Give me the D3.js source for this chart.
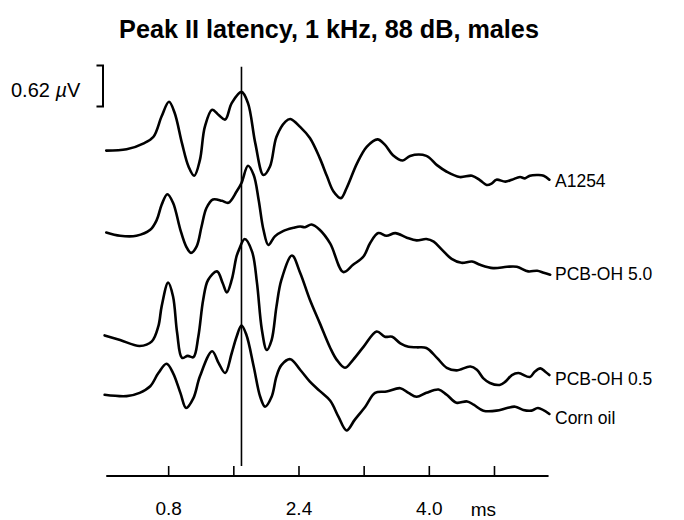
<!DOCTYPE html>
<html>
<head>
<meta charset="utf-8">
<script src="https://cdn.jsdelivr.net/npm/d3@7"></script>
<style>
  html, body { margin: 0; padding: 0; background: #fff; }
  svg { display: block; }
  text { font-family: "Liberation Sans", Arial, sans-serif; fill: #000; }
</style>
</head>
<body>
<svg id="chart" width="684" height="520"></svg>
<script>
// ---- data (time in ms, amplitude in µV relative to each trace's start) ----
const seriesNames = ["A1254", "PCB-OH 5.0", "PCB-OH 0.5", "Corn oil"];
const seriesOffsets = [4.93, 3.69, 2.13, 1.23]; // stacking offsets, µV

const a1254 = [
  [0.04,0],[0.29,0.02],[0.50,0.11],[0.62,0.21],[0.72,0.52],[0.81,0.74],[0.88,0.57],[0.97,0.11],
  [1.05,-0.24],[1.12,-0.38],[1.19,-0.14],[1.25,0.36],[1.34,0.62],[1.42,0.54],[1.50,0.47],[1.58,0.72],
  [1.70,0.89],[1.78,0.72],[1.87,0.11],[1.97,-0.37],[2.05,-0.24],[2.13,0.21],[2.24,0.44],[2.30,0.48],
  [2.42,0.36],[2.54,0.19],[2.66,-0.11],[2.75,-0.39],[2.83,-0.62],[2.92,-0.72],[2.99,-0.57],[3.12,-0.19],
  [3.24,0.06],[3.37,0.17],[3.46,0.09],[3.56,-0.07],[3.68,-0.15],[3.77,-0.08],[3.97,-0.08],[4.10,-0.22],
  [4.22,-0.32],[4.38,-0.40],[4.53,-0.38],[4.63,-0.45],[4.71,-0.52],[4.77,-0.50],[4.83,-0.44],[4.94,-0.47],
  [5.02,-0.44],[5.12,-0.40],[5.18,-0.42],[5.24,-0.38],[5.34,-0.37],[5.41,-0.38],[5.48,-0.44]
];
const pcbOH50 = [
  [0.04,0],[0.21,-0.05],[0.41,-0.05],[0.58,0.04],[0.66,0.19],[0.72,0.42],[0.79,0.58],[0.86,0.45],
  [0.95,0.04],[1.02,-0.21],[1.08,-0.31],[1.15,-0.21],[1.21,0.09],[1.27,0.37],[1.35,0.50],[1.46,0.48],
  [1.54,0.45],[1.64,0.62],[1.70,0.75],[1.78,1.01],[1.85,0.87],[1.91,0.50],[1.97,0.04],[2.03,-0.19],
  [2.11,-0.06],[2.21,0.02],[2.34,0.07],[2.42,0.09],[2.48,0.08],[2.56,0.12],[2.66,0.04],[2.79,-0.17],
  [2.95,-0.60],[3.07,-0.49],[3.20,-0.36],[3.28,-0.16],[3.38,-0.01],[3.48,-0.05],[3.59,-0.01],[3.73,-0.08],
  [3.85,-0.12],[3.97,-0.10],[4.06,-0.14],[4.16,-0.26],[4.28,-0.40],[4.40,-0.46],[4.53,-0.44],[4.63,-0.49],
  [4.79,-0.54],[4.96,-0.52],[5.08,-0.52],[5.22,-0.59],[5.33,-0.58],[5.41,-0.61],[5.49,-0.64]
];
const pcbOH05 = [
  [0.02,0],[0.21,-0.07],[0.45,-0.16],[0.60,-0.09],[0.68,0.14],[0.72,0.44],[0.80,0.80],[0.86,0.59],
  [0.91,0.04],[0.97,-0.34],[1.04,-0.31],[1.11,-0.33],[1.17,-0.02],[1.23,0.54],[1.29,0.84],[1.40,0.97],
  [1.47,0.79],[1.52,0.65],[1.58,0.84],[1.64,1.20],[1.67,1.30],[1.74,1.46],[1.83,1.27],[1.89,0.80],
  [1.95,0.09],[2.01,-0.22],[2.07,-0.07],[2.13,0.44],[2.19,0.84],[2.32,1.21],[2.42,0.95],[2.54,0.54],
  [2.66,0.19],[2.79,-0.19],[2.87,-0.37],[2.97,-0.49],[3.07,-0.37],[3.20,-0.17],[3.36,0.06],[3.46,-0.02],
  [3.55,-0.02],[3.65,-0.12],[3.75,-0.17],[3.85,-0.18],[3.97,-0.19],[4.10,-0.34],[4.22,-0.49],[4.34,-0.53],
  [4.51,-0.47],[4.59,-0.52],[4.67,-0.65],[4.75,-0.72],[4.87,-0.75],[4.94,-0.70],[5.02,-0.60],[5.10,-0.57],
  [5.24,-0.63],[5.30,-0.55],[5.37,-0.50],[5.43,-0.55],[5.48,-0.60]
];
const cornOil = [
  [0.02,0],[0.29,-0.02],[0.45,0.03],[0.58,0.13],[0.68,0.33],[0.78,0.47],[0.86,0.33],[0.95,0.03],
  [1.02,-0.20],[1.11,-0.05],[1.19,0.28],[1.34,0.66],[1.42,0.48],[1.50,0.33],[1.58,0.63],[1.64,0.88],
  [1.70,1.05],[1.76,0.91],[1.85,0.43],[1.93,-0.03],[1.99,-0.18],[2.07,-0.03],[2.13,0.28],[2.19,0.45],
  [2.30,0.54],[2.42,0.38],[2.54,0.20],[2.66,0.06],[2.79,-0.09],[2.89,-0.33],[2.99,-0.54],[3.09,-0.38],
  [3.22,-0.18],[3.34,0.03],[3.48,0.05],[3.65,0.10],[3.75,0.03],[3.85,-0.03],[3.97,0.03],[4.12,0.08],
  [4.22,0.00],[4.34,-0.12],[4.47,-0.10],[4.55,-0.15],[4.67,-0.24],[4.83,-0.24],[4.96,-0.20],[5.06,-0.18],
  [5.16,-0.23],[5.26,-0.24],[5.34,-0.20],[5.48,-0.29]
];
const seriesValues = [a1254, pcbOH50, pcbOH05, cornOil];

const tickValues = [0.8, 1.6, 2.4, 3.2, 4.0, 4.8];
const tickLabels = ["0.8", "", "2.4", "", "4.0", ""];
const markerTime = 1.70;       // vertical reference line (ms)
const scaleBarValue = 0.62;    // µV
const titleText = "Peak II latency, 1 kHz, 88 dB, males";

// ---- drawing ----
const svg = d3.select("#chart");
const x = d3.scaleLinear().domain([0, 5.5]).range([103, 551]);
const y = d3.scaleLinear().domain([0, 6.2]).range([476, 66.8]);

// title (fit to the reference's width)
const title = svg.append("text")
  .attr("x", 329).attr("y", 38)
  .attr("text-anchor", "middle")
  .style("font-size", "22px")
  .style("font-weight", "bold")
  .text(titleText);
const tw = title.node().getComputedTextLength();
title.style("font-size", (22 * 420 / tw).toFixed(2) + "px");

// traces
const line = d3.line()
  .x(d => x(d[0]))
  .y(d => d[1])
  .curve(d3.curveCatmullRom.alpha(0.5));

seriesValues.forEach((vals, i) => {
  const pts = vals.map(d => [d[0], y(d[1] + seriesOffsets[i])]);
  svg.append("path")
    .attr("d", line(pts))
    .attr("fill", "none")
    .attr("stroke", "#000")
    .attr("stroke-width", 2.6)
    .attr("stroke-linejoin", "round")
    .attr("stroke-linecap", "round");
});

// series labels
const labelY = [187, 280, 385, 424];
seriesNames.forEach((n, i) => {
  svg.append("text")
    .attr("x", 555).attr("y", labelY[i])
    .style("font-size", "17.5px")
    .text(n);
});

// x axis
const axis = d3.axisBottom(x)
  .tickValues(tickValues)
  .tickSize(-10)
  .tickFormat((d, i) => tickLabels[i]);
const gx = svg.append("g").attr("transform", `translate(0,${y(0)})`).call(axis);
gx.select(".domain").attr("d", `M${x(0.04)},0H${x(5.47)}`).attr("stroke-width", 2);
gx.selectAll(".tick line").attr("stroke-width", 1.6);
gx.selectAll(".tick text")
  .attr("y", 26)
  .style("font-family", '"Liberation Sans", Arial, sans-serif')
  .style("font-size", "19px")
  .attr("fill", "#000");
svg.append("text")
  .attr("x", x(4.67)).attr("y", y(0) + 40)
  .attr("text-anchor", "middle")
  .style("font-size", "19px")
  .text("ms");

// vertical reference line
svg.append("line")
  .attr("x1", x(markerTime)).attr("x2", x(markerTime))
  .attr("y1", y(6.2)).attr("y2", y(0) - 10)
  .attr("stroke", "#000").attr("stroke-width", 1.6);

// scale bar
const sbTop = y(6.22), sbBot = y(6.22 - scaleBarValue);
svg.append("path")
  .attr("d", `M${x(-0.08)},${sbTop}H${x(0)}V${sbBot}H${x(-0.08)}`)
  .attr("fill", "none").attr("stroke", "#000").attr("stroke-width", 2);
const sbt = svg.append("text")
  .attr("x", 11).attr("y", 97)
  .style("font-size", "20px");
sbt.append("tspan").text("0.62 ");
sbt.append("tspan").style("font-style", "italic").text("µ");
sbt.append("tspan").text("V");
</script>
</body>
</html>
